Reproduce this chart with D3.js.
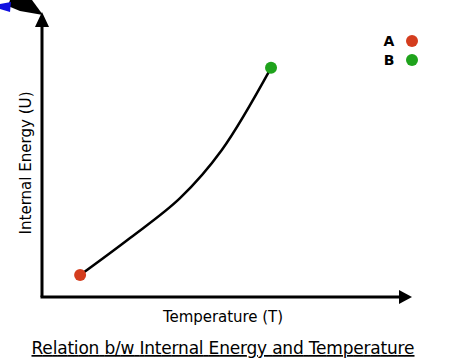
<!DOCTYPE html>
<html>
<head>
<meta charset="utf-8">
<script src="https://cdn.jsdelivr.net/npm/d3@7"></script>
<style>
  body { margin: 0; background: #fff; }
  text { font-family: "DejaVu Sans", Verdana, sans-serif; }
</style>
</head>
<body>
<div class="graph"></div>
<script>
var width = 474
var height = 364

// curve (arbitrary units, 0..100 on both axes)
var temperature = [10.3, 23.8, 37.3, 48.6, 61.9]
var energy = [7.7, 20.7, 34.7, 51.6, 80.4]

var states = ["A", "B"]
var stateColors = ["#d43d1e", "#1fa31c"]
var stateIndex = [0, 4]   // where A and B sit on the curve

var xLabel = "Temperature (T)"
var yLabel = "Internal Energy (U)"
var title = "Relation b/w Internal Energy and Temperature"

var svg = d3.select(".graph").append("svg")
  .attr("width", width)
  .attr("height", height)

var x = d3.scaleLinear().domain([0, 100]).range([42, 412])
var y = d3.scaleLinear().domain([0, 100]).range([297, 12])

// odd leftover cursor in the top-left corner
svg.append("path")
  .attr("d", "M10,0 L32,0 L43,15 L20,11 L8,6 Z")
  .attr("fill", "#000")
svg.append("path")
  .attr("d", "M0,4 L11,2 L10,12 L0,9 Z")
  .attr("fill", "#1010e0")

// axes drawn as arrows
svg.append("line")
  .attr("x1", x(0)).attr("y1", y(0))
  .attr("x2", x(0)).attr("y2", y(0) - 270)
  .attr("stroke", "#000").attr("stroke-width", 3)
svg.append("path")
  .attr("d", "M" + x(0) + "," + y(100) + " l-7,15 l14,0 Z")
  .attr("fill", "#000")

svg.append("line")
  .attr("x1", x(0) - 1.5).attr("y1", y(0))
  .attr("x2", x(100) - 12).attr("y2", y(0))
  .attr("stroke", "#000").attr("stroke-width", 3)
svg.append("path")
  .attr("d", "M" + x(100) + "," + y(0) + " l-13,-7 l0,14 Z")
  .attr("fill", "#000")

var pts = temperature.map(function (t, i) { return [t, energy[i]] })

var line = d3.line()
  .x(function (d) { return x(d[0]) })
  .y(function (d) { return y(d[1]) })
  .curve(d3.curveCatmullRom)

svg.append("path")
  .datum(pts)
  .attr("d", line)
  .attr("fill", "none")
  .attr("stroke", "#000")
  .attr("stroke-width", 2.5)

svg.selectAll(".state")
  .data(states)
  .enter().append("circle")
  .attr("class", "state")
  .attr("cx", function (d, i) { return x(temperature[stateIndex[i]]) })
  .attr("cy", function (d, i) { return y(energy[stateIndex[i]]) })
  .attr("r", 6)
  .attr("fill", function (d, i) { return stateColors[i] })

// legend
var legend = svg.selectAll(".legend")
  .data(states)
  .enter().append("g")
  .attr("class", "legend")
  .attr("transform", function (d, i) { return "translate(0," + (41 + i * 19) + ")" })
legend.append("text")
  .attr("x", 389).attr("y", 5)
  .attr("text-anchor", "middle")
  .attr("font-size", 14)
  .attr("font-weight", 600)
  .text(function (d) { return d })
legend.append("circle")
  .attr("cx", 412).attr("cy", 0).attr("r", 6)
  .attr("fill", function (d, i) { return stateColors[i] })

svg.append("text")
  .attr("x", 223).attr("y", 322)
  .attr("text-anchor", "middle")
  .attr("font-size", 15)
  .attr("textLength", 120)
  .text(xLabel)

svg.append("text")
  .attr("transform", "translate(31,163) rotate(-90)")
  .attr("text-anchor", "middle")
  .attr("font-size", 15)
  .attr("textLength", 143)
  .text(yLabel)

svg.append("text")
  .attr("x", 223).attr("y", 354)
  .attr("text-anchor", "middle")
  .attr("font-size", 17)
  .attr("textLength", 383)
  .attr("text-decoration", "underline")
  .text(title)
</script>
</body>
</html>
